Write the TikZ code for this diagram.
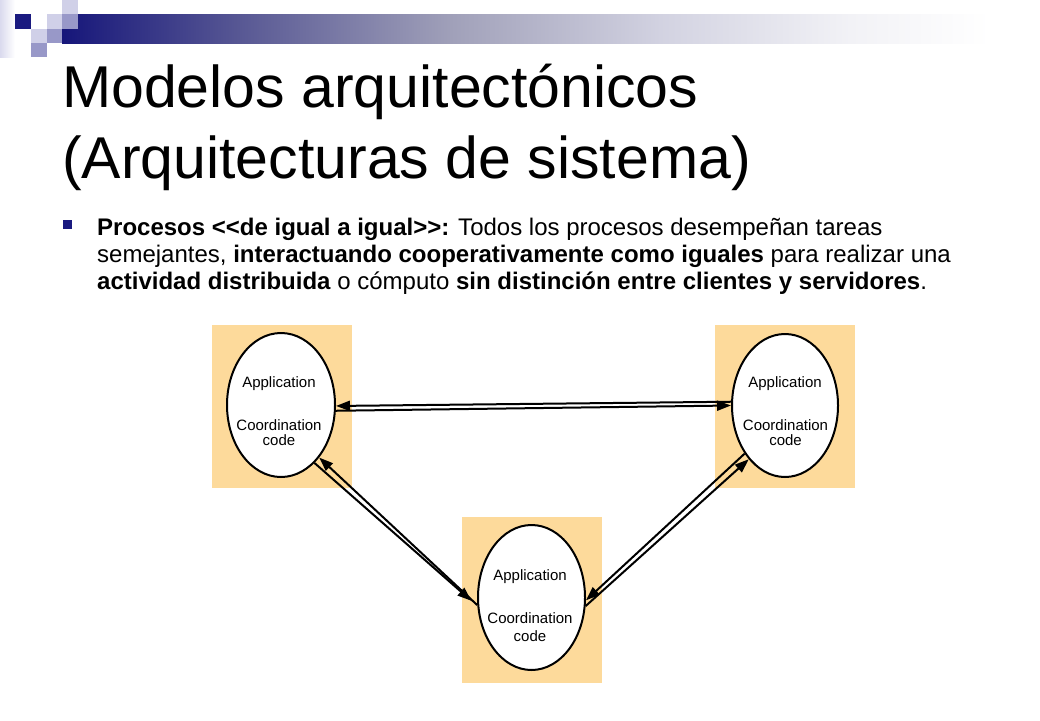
\documentclass[tikz,border=0pt]{standalone}
\usepackage{fontspec}
\setmainfont{Liberation Sans}
\usetikzlibrary{arrows.meta,shapes.geometric}
\definecolor{navy}{RGB}{26,26,128}
\definecolor{lavlight}{RGB}{208,208,232}
\definecolor{lavmed}{RGB}{152,152,200}
\definecolor{lavedge}{RGB}{218,218,238}
\definecolor{barA}{RGB}{22,22,122}
\definecolor{barB}{RGB}{88,88,148}
\definecolor{barC}{RGB}{160,160,185}
\definecolor{barD}{RGB}{210,210,225}
\definecolor{barE}{RGB}{242,242,246}
\definecolor{peach}{RGB}{253,218,155}
\tikzset{
  procbox/.style={fill=peach, draw=none},
  proc/.style={ellipse, draw=black, line width=2pt, fill=white, inner sep=0pt},
  lbl/.style={font=\fontsize{15}{15}\selectfont, inner sep=0pt},
  msg/.style={line width=2pt, -{Triangle[length=14pt,width=10pt]}},
  title/.style={font=\fontsize{59}{59}\selectfont, anchor=base west, inner sep=0pt},
  body/.style={font=\fontsize{24}{27}\selectfont, anchor=base west, inner sep=0pt},
}
\begin{document}
\begin{tikzpicture}[x=1pt,y=-1pt]
\useasboundingbox (0,0) rectangle (1040,720);
\fill[white] (0,0) rectangle (1040,720);
% header decoration
\shade[left color=lavedge, right color=white] (0,0) rectangle (15,57);
\shade[left color=barA, right color=barB] (62,14) rectangle (240.5,43);
\shade[left color=barB, right color=barC] (240,14) rectangle (450.5,43);
\shade[left color=barC, right color=barD] (450,14) rectangle (660.5,43);
\shade[left color=barD, right color=barE] (660,14) rectangle (850.5,43);
\shade[left color=barE, right color=white] (850,14) rectangle (990,43);
\fill[navy] (15,14) rectangle (31,29);
\fill[lavlight] (62,0) rectangle (78,14);
\fill[lavlight] (47,14) rectangle (62,29);
\fill[lavmed] (62,14) rectangle (78,29);
\fill[lavlight] (31,29) rectangle (47,43);
\fill[lavmed] (47,29) rectangle (62,43);
\fill[lavmed] (31,43) rectangle (47,57);
% title
\node[title] (t1) at (62,107) {Modelos arquitectónicos};
\node[title] (t2) at (62,178) {(Arquitecturas de sistema)};
% bullet text
\fill[navy] (63,220) rectangle (72,229);
\node[body] (b1) at (97,235) {\textbf{Procesos <{}<de igual a igual>{}>:} Todos los procesos desempeñan tareas};
\node[body] (b2) at (97,262) {semejantes, \textbf{interactuando cooperativamente como iguales} para realizar una};
\node[body] (b3) at (97,289) {\textbf{actividad distribuida} o cómputo \textbf{sin distinción entre clientes y servidores}.};
% process boxes
\fill[procbox] (212,325) rectangle (352,488);
\fill[procbox] (715,325) rectangle (855,488);
\fill[procbox] (462,517) rectangle (602,683);
\node[proc, minimum width=108pt, minimum height=144pt] (L) at (281,405) {};
\node[proc, minimum width=106pt, minimum height=143pt] (R) at (785,405.5) {};
\node[proc, minimum width=107pt, minimum height=145pt] (B) at (531.5,597.5) {};
\node[lbl] (La) at (279,384) {Application};
\node[lbl] (Lc) at (279,425) {Coordination};
\node[lbl] (Ld) at (279,440.5) {code};
\node[lbl] (Ra) at (785,384) {Application};
\node[lbl] (Rc) at (785.5,425) {Coordination};
\node[lbl] (Rd) at (785.5,440.5) {code};
\node[lbl] (Ba) at (530,577) {Application};
\node[lbl] (Bc) at (530,618) {Coordination};
\node[lbl] (Bd) at (530,636) {code};
% connectors
\draw[msg] (R.176.1) -- (L.-1);
\draw[msg] (L.-6.4) -- (R.180.5);
\draw[msg] (B.188.9) -- (L.-54);
\draw[msg, shorten >=8pt] (L.-60.5) -- (B.189.5);
\draw[msg] (R.230.8) -- (B.-3.7);
\draw[msg] (B.-9.1) -- (R.236.3);
\end{tikzpicture}
\end{document}
